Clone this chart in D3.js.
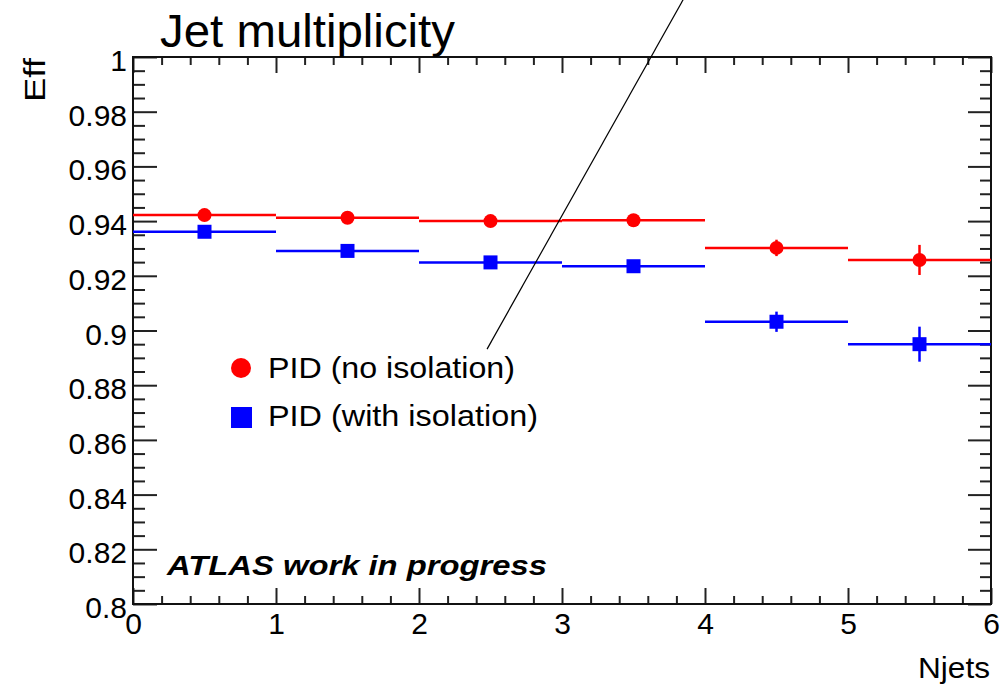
<!DOCTYPE html>
<html>
<head>
<meta charset="utf-8">
<script src="https://d3js.org/d3.v7.min.js"></script>
<style>
  body { margin: 0; background: #fff; }
  text { font-family: "Liberation Sans", Arial, Helvetica, sans-serif; }
</style>
</head>
<body>
<script>
// bins of jet multiplicity (lower edges, width 1)
var binEdges = [0, 1, 2, 3, 4, 5];
var binWidth = 1;

// efficiency without isolation (red) and with isolation (blue)
var effNoIso = [0.9422, 0.9412, 0.9400, 0.9403, 0.9302, 0.9258];
var errNoIso = [0.0008, 0.0008, 0.0008, 0.0008, 0.0030, 0.0055];
var effIso = [0.9361, 0.9291, 0.9249, 0.9235, 0.9032, 0.8950];
var errIso = [0.0008, 0.0008, 0.0008, 0.0008, 0.0037, 0.0064];

// tick values
var xMajor = [0, 1, 2, 3, 4, 5, 6];
var yMajor = [0.8, 0.82, 0.84, 0.86, 0.88, 0.9, 0.92, 0.94, 0.96, 0.98, 1];
var yLabels = ["0.8", "0.82", "0.84", "0.86", "0.88", "0.9", "0.92", "0.94",
               "0.96", "0.98", "1"];

// stray line drawn over the pad (data coordinates)
var strayLine = [{x: 3.853, y: 1.0215}, {x: 2.476, y: 0.8932}];

// svg variables (note: "top" is reserved on window, so use pad names)
var w = 1000;
var h = 684;
var padLeft = 133;
var padRight = 991;
var padTop = 57;
var padBottom = 604;

var svg = d3.select("body")
            .append("svg")
            .attr("width", w)
            .attr("height", h);

var xScale = d3.scaleLinear().domain([0, 6]).range([padLeft, padRight]);
var yScale = d3.scaleLinear().domain([0.8, 1]).range([padBottom, padTop]);

// minor ticks
var xMinor = d3.range(0, 30).map(function(i) { return i * 0.2; })
               .filter(function(v) { return Math.abs(v - Math.round(v)) > 1e-6; });
var yMinor = d3.range(0, 40).map(function(i) { return 0.8 + i * 0.005; })
               .filter(function(v) { return Math.abs(v * 50 - Math.round(v * 50)) > 1e-6; });

function styleAxis(g) {
  g.selectAll("path").remove();
  g.selectAll("line").attr("stroke", "#222").attr("stroke-width", 2);
  g.selectAll("text")
   .attr("font-size", 30)
   .attr("fill", "#000")
   .attr("font-family", "Liberation Sans, Arial, sans-serif");
}

// left axis
svg.append("g")
   .attr("transform", "translate(" + padLeft + ",0)")
   .call(d3.axisLeft(yScale).tickValues(yMajor)
           .tickFormat(function(d, i) { return yLabels[i]; })
           .tickSizeInner(-24).tickSizeOuter(0).tickPadding(6))
   .call(styleAxis)
   .selectAll("text").attr("dy", "0.45em");
svg.append("g")
   .attr("transform", "translate(" + padLeft + ",0)")
   .call(d3.axisLeft(yScale).tickValues(yMinor).tickFormat("")
           .tickSizeInner(-12).tickSizeOuter(0))
   .call(styleAxis);

// right axis
svg.append("g")
   .attr("transform", "translate(" + padRight + ",0)")
   .call(d3.axisRight(yScale).tickValues(yMajor).tickFormat("")
           .tickSizeInner(-23).tickSizeOuter(0))
   .call(styleAxis);
svg.append("g")
   .attr("transform", "translate(" + padRight + ",0)")
   .call(d3.axisRight(yScale).tickValues(yMinor).tickFormat("")
           .tickSizeInner(-11).tickSizeOuter(0))
   .call(styleAxis);

// bottom axis
svg.append("g")
   .attr("transform", "translate(0," + padBottom + ")")
   .call(d3.axisBottom(xScale).tickValues(xMajor).tickFormat(d3.format("d"))
           .tickSizeInner(-16).tickSizeOuter(0).tickPadding(9))
   .call(styleAxis);
svg.append("g")
   .attr("transform", "translate(0," + padBottom + ")")
   .call(d3.axisBottom(xScale).tickValues(xMinor).tickFormat("")
           .tickSizeInner(-8).tickSizeOuter(0))
   .call(styleAxis);

// top axis
svg.append("g")
   .attr("transform", "translate(0," + padTop + ")")
   .call(d3.axisTop(xScale).tickValues(xMajor).tickFormat("")
           .tickSizeInner(-16).tickSizeOuter(0))
   .call(styleAxis);
svg.append("g")
   .attr("transform", "translate(0," + padTop + ")")
   .call(d3.axisTop(xScale).tickValues(xMinor).tickFormat("")
           .tickSizeInner(-8).tickSizeOuter(0))
   .call(styleAxis);

// frame
svg.append("rect")
   .attr("x", padLeft)
   .attr("y", padTop)
   .attr("width", padRight - padLeft)
   .attr("height", padBottom - padTop)
   .attr("fill", "none")
   .attr("stroke", "#111")
   .attr("stroke-width", 2);

// draw one series: horizontal bin line, error bar and marker
function drawSeries(values, errors, color, shape) {
  var g = svg.append("g");
  var pts = binEdges.map(function(e, i) {
    return {lo: e, hi: e + binWidth, mid: e + binWidth / 2, v: values[i], err: errors[i]};
  });

  g.selectAll(".hbar")
   .data(pts)
   .enter()
   .append("line")
   .attr("x1", function(d) { return xScale(d.lo); })
   .attr("x2", function(d) { return xScale(d.hi); })
   .attr("y1", function(d) { return yScale(d.v); })
   .attr("y2", function(d) { return yScale(d.v); })
   .attr("stroke", color)
   .attr("stroke-width", 2.5);

  g.selectAll(".vbar")
   .data(pts)
   .enter()
   .append("line")
   .attr("x1", function(d) { return xScale(d.mid); })
   .attr("x2", function(d) { return xScale(d.mid); })
   .attr("y1", function(d) { return yScale(d.v - d.err); })
   .attr("y2", function(d) { return yScale(d.v + d.err); })
   .attr("stroke", color)
   .attr("stroke-width", 2.5);

  if (shape === "circle") {
    g.selectAll("circle")
     .data(pts)
     .enter()
     .append("circle")
     .attr("cx", function(d) { return xScale(d.mid); })
     .attr("cy", function(d) { return yScale(d.v); })
     .attr("r", 7)
     .attr("fill", color);
  } else {
    g.selectAll("rect")
     .data(pts)
     .enter()
     .append("rect")
     .attr("x", function(d) { return xScale(d.mid) - 7; })
     .attr("y", function(d) { return yScale(d.v) - 7; })
     .attr("width", 14)
     .attr("height", 14)
     .attr("fill", color);
  }
}

drawSeries(effNoIso, errNoIso, "#ff0000", "circle");
drawSeries(effIso, errIso, "#0000ff", "square");

// stray line
svg.append("line")
   .attr("x1", xScale(strayLine[0].x))
   .attr("y1", yScale(strayLine[0].y))
   .attr("x2", xScale(strayLine[1].x))
   .attr("y2", yScale(strayLine[1].y))
   .attr("stroke", "#000")
   .attr("stroke-width", 1.2);

// legend
svg.append("circle")
   .attr("cx", 241)
   .attr("cy", 368)
   .attr("r", 10)
   .attr("fill", "#ff0000");
svg.append("text")
   .attr("x", 268)
   .attr("y", 378)
   .attr("font-size", 29)
   .attr("textLength", 247)
   .attr("lengthAdjust", "spacingAndGlyphs")
   .text("PID (no isolation)");
svg.append("rect")
   .attr("x", 231)
   .attr("y", 407)
   .attr("width", 21)
   .attr("height", 21)
   .attr("fill", "#0000ff");
svg.append("text")
   .attr("x", 268)
   .attr("y", 426)
   .attr("font-size", 29)
   .attr("textLength", 270)
   .attr("lengthAdjust", "spacingAndGlyphs")
   .text("PID (with isolation)");

// ATLAS label
svg.append("text")
   .attr("x", 167)
   .attr("y", 575)
   .attr("font-size", 28)
   .attr("font-weight", "bold")
   .attr("font-style", "italic")
   .attr("textLength", 380)
   .attr("lengthAdjust", "spacingAndGlyphs")
   .text("ATLAS work in progress");

// title
svg.append("text")
   .attr("x", 160)
   .attr("y", 47)
   .attr("font-size", 46)
   .attr("textLength", 295)
   .attr("lengthAdjust", "spacingAndGlyphs")
   .text("Jet multiplicity");

// axis titles
svg.append("text")
   .attr("x", 990)
   .attr("y", 678)
   .attr("font-size", 29)
   .attr("text-anchor", "end")
   .attr("textLength", 72)
   .attr("lengthAdjust", "spacingAndGlyphs")
   .text("Njets");

svg.append("text")
   .attr("transform", "translate(45,58) rotate(-90)")
   .attr("font-size", 30)
   .attr("text-anchor", "end")
   .attr("textLength", 44)
   .attr("lengthAdjust", "spacingAndGlyphs")
   .text("Eff");
</script>
</body>
</html>
